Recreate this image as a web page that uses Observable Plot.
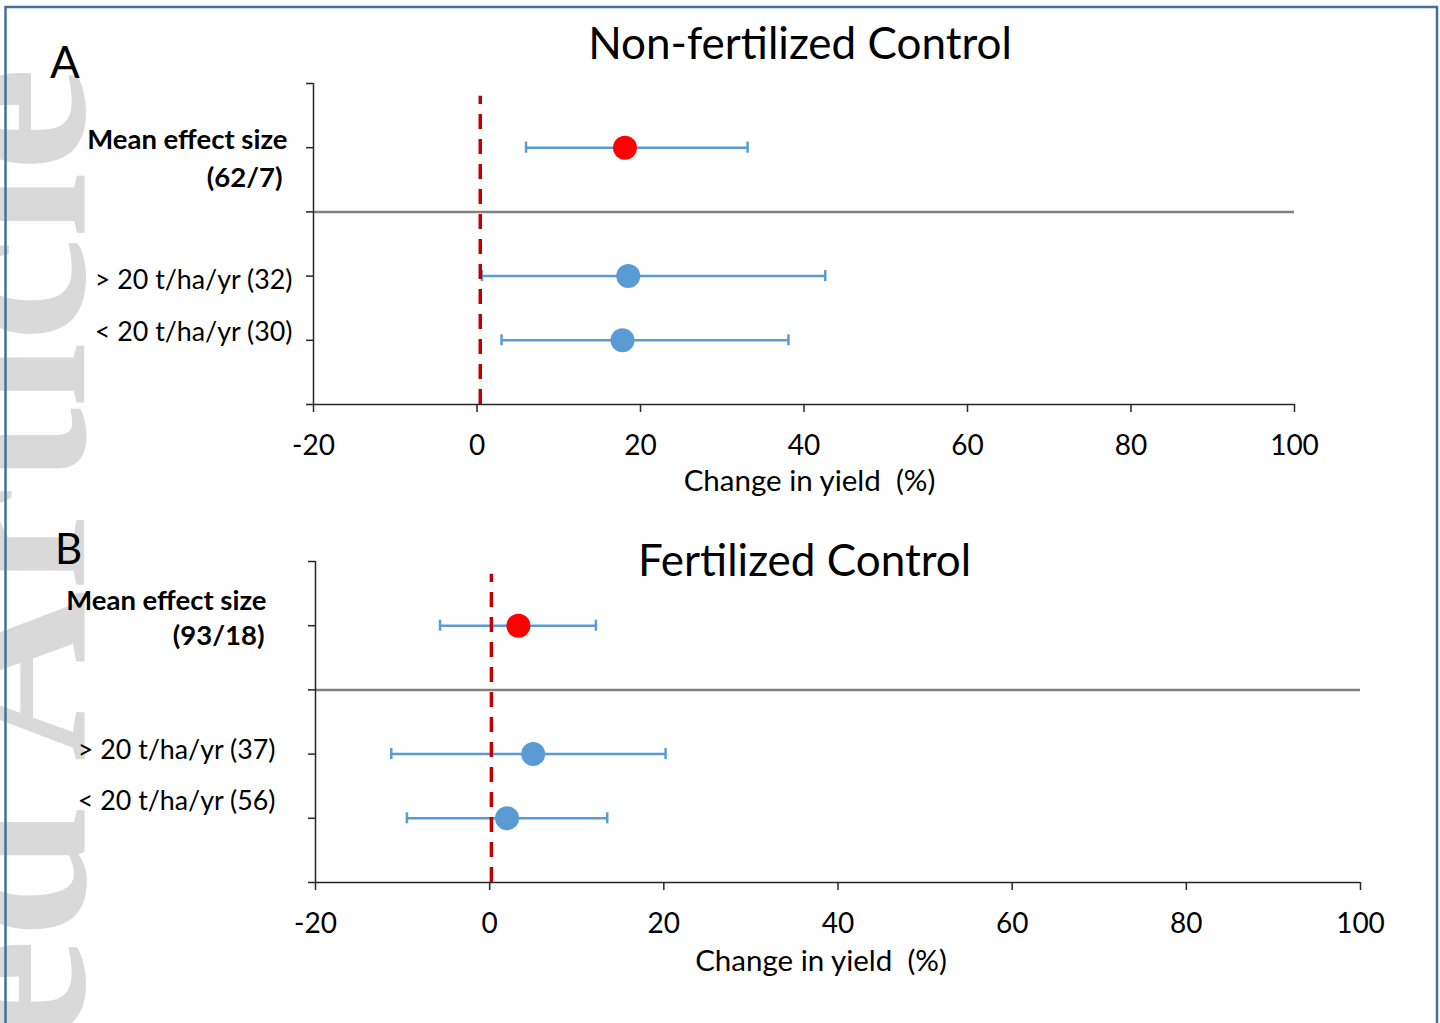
<!DOCTYPE html>
<html><head><meta charset="utf-8">
<script src="https://cdn.jsdelivr.net/npm/d3@7"></script>
<script src="https://cdn.jsdelivr.net/npm/@observablehq/plot@0.6"></script>
<style>
body{margin:0;background:#fff;}
#fig{position:relative;width:1440px;height:1023px;overflow:hidden;background:#fff;}
#fig > svg, #fig > div{position:absolute;left:0;}
</style></head><body><div id="fig"></div>
<script>
// ---- data ----
const categories = ["Mean effect size", "> 20 t/ha/yr", "< 20 t/ha/yr"];
const nA = ["62/7", "32", "30"];
const meanA = [18.1, 18.5, 17.8];
const lowA = [6.0, 0.6, 3.0];
const highA = [33.1, 42.6, 38.1];
const nB = ["93/18", "37", "56"];
const meanB = [3.3, 5.0, 2.0];
const lowB = [-5.7, -11.3, -9.5];
const highB = [12.2, 20.2, 13.5];
const xTicks = [-20, 0, 20, 40, 60, 80, 100];
const yTicks = [0, 1, 2, 3, 4, 5];
const refA = 0.4;
const refB = 0.2;
const titles = ["Non-fertilized Control", "Fertilized Control"];
const panelLetters = ["A", "B"];
const xLabel = "Change in yield  (%)";
const watermark = "Accepted Article";

// ---- layout (code, not data) ----
const slots = [4, 2, 1];
const fig = document.getElementById("fig");

// watermark behind everything
const wm = d3.select(fig).append("svg").attr("width", 1440).attr("height", 1023).style("top", "0px");
wm.append("text")
  .attr("transform", "translate(84,67) rotate(-90)")
  .attr("text-anchor", "end")
  .attr("font-family", "Liberation Serif, DejaVu Serif, serif")
  .attr("font-weight", "bold")
  .attr("font-size", 236)
  .attr("fill", "#d9d9d9")
  .text(watermark);

function drawPanel(cfg) {
  const rows = categories.map((c, i) => ({slot: slots[i], m: cfg.mean[i], lo: cfg.low[i], hi: cfg.high[i], isMean: i === 0}));
  const cap = 0.086;
  const labels = [
    {text: categories[0], slot: slots[0], bold: true, dx: cfg.lab[0][0], dy: cfg.lab[0][1]},
    {text: `(${cfg.n[0]})`, slot: slots[0], bold: true, dx: cfg.lab[1][0], dy: cfg.lab[1][1]},
    {text: `${categories[1]} (${cfg.n[1]})`, slot: slots[1], bold: false, dx: cfg.lab[2][0], dy: cfg.lab[2][1]},
    {text: `${categories[2]} (${cfg.n[2]})`, slot: slots[2], bold: false, dx: cfg.lab[3][0], dy: cfg.lab[3][1]}
  ];
  const labelMarks = labels.map(l => Plot.text([l], {
    y: "slot", frameAnchor: "left", text: "text", textAnchor: "end",
    dx: l.dx, dy: l.dy, fontSize: l.bold ? 27.5 : 26.8, fontWeight: l.bold ? "bold" : "normal",
    fill: "#000", lineAnchor: "middle"
  }));
  const axisColor = "#262626";
  const p = Plot.plot({
    width: 1440, height: cfg.height,
    marginTop: cfg.mt, marginBottom: cfg.mb, marginLeft: cfg.ml, marginRight: cfg.mr,
    style: {background: "transparent", fontFamily: "Lato, sans-serif", fontSize: "22px", color: "#000", overflow: "visible"},
    x: {domain: [-20, 100]},
    y: {domain: [0, 5]},
    marks: [
      Plot.ruleY([3], {stroke: "#808080", strokeWidth: 2.5}),
      Plot.ruleY(rows, {y: "slot", x1: "lo", x2: "hi", stroke: "#5b9bd5", strokeWidth: 2.5}),
      Plot.ruleX(rows, {x: "lo", y1: d => d.slot - cap, y2: d => d.slot + cap, stroke: "#5b9bd5", strokeWidth: 2.5}),
      Plot.ruleX(rows, {x: "hi", y1: d => d.slot - cap, y2: d => d.slot + cap, stroke: "#5b9bd5", strokeWidth: 2.5}),
      Plot.dot(rows, {x: "m", y: "slot", r: 12, fill: d => d.isMean ? "#ff0000" : "#5b9bd5", stroke: "none"}),
      Plot.ruleX([cfg.ref], {y1: 0, y2: 4.8, stroke: "#c00000", strokeWidth: 3.5, strokeDasharray: "15,10"}),
      Plot.ruleX([-20], {stroke: axisColor, strokeWidth: 1.5}),
      Plot.ruleY([0], {stroke: axisColor, strokeWidth: 1.5}),
      Plot.axisY({ticks: yTicks, tickSize: 7, tickFormat: () => "", label: null, stroke: axisColor, strokeWidth: 1.5}),
      Plot.axisX({ticks: xTicks, tickSize: 8, tickPadding: 23, tickFormat: d => String(d), label: null, fontSize: 28, fill: "#000", stroke: axisColor, strokeWidth: 1.5}),
      ...labelMarks
    ]
  });
  p.style.position = "absolute";
  p.style.left = "0px";
  p.style.top = cfg.top + "px";
  fig.appendChild(p);
}

drawPanel({mean: meanA, low: lowA, high: highA, n: nA, ref: refA, top: 0, height: 500, mt: 83, mb: 96, ml: 313, mr: 146,
  lab: [[-26, -7.5], [-31, 30], [-21, 4.5], [-21, -8]]});
drawPanel({mean: meanB, low: lowB, high: highB, n: nB, ref: refB, top: 480, height: 543, mt: 81, mb: 141, ml: 315, mr: 80,
  lab: [[-49, -25], [-51, 10], [-40, -3.5], [-40, -16.5]]});

// overlay: titles, panel letters, axis titles, border
const ov = d3.select(fig).append("svg").attr("width", 1440).attr("height", 1023).style("top", "0px")
  .style("font-family", "Lato, sans-serif");
ov.append("text").attr("x", 800).attr("y", 59).attr("text-anchor", "middle").attr("font-size", 44).text(titles[0]);
ov.append("text").attr("x", 804.5).attr("y", 576).attr("text-anchor", "middle").attr("font-size", 44).text(titles[1]);
ov.append("text").attr("x", 50).attr("y", 78).attr("font-size", 44).text(panelLetters[0]);
ov.append("text").attr("x", 55).attr("y", 564).attr("font-size", 42).text(panelLetters[1]);
ov.append("text").attr("x", 809.5).attr("y", 491).attr("text-anchor", "middle").attr("font-size", 29.5).style("white-space", "pre").text(xLabel);
ov.append("text").attr("x", 821).attr("y", 971).attr("text-anchor", "middle").attr("font-size", 29.5).style("white-space", "pre").text(xLabel);
ov.append("rect").attr("x", 5.5).attr("y", 7).attr("width", 1431.5).attr("height", 1100)
  .attr("fill", "none").attr("stroke", "#41719c").attr("stroke-width", 2.5);
</script>
</body></html>
